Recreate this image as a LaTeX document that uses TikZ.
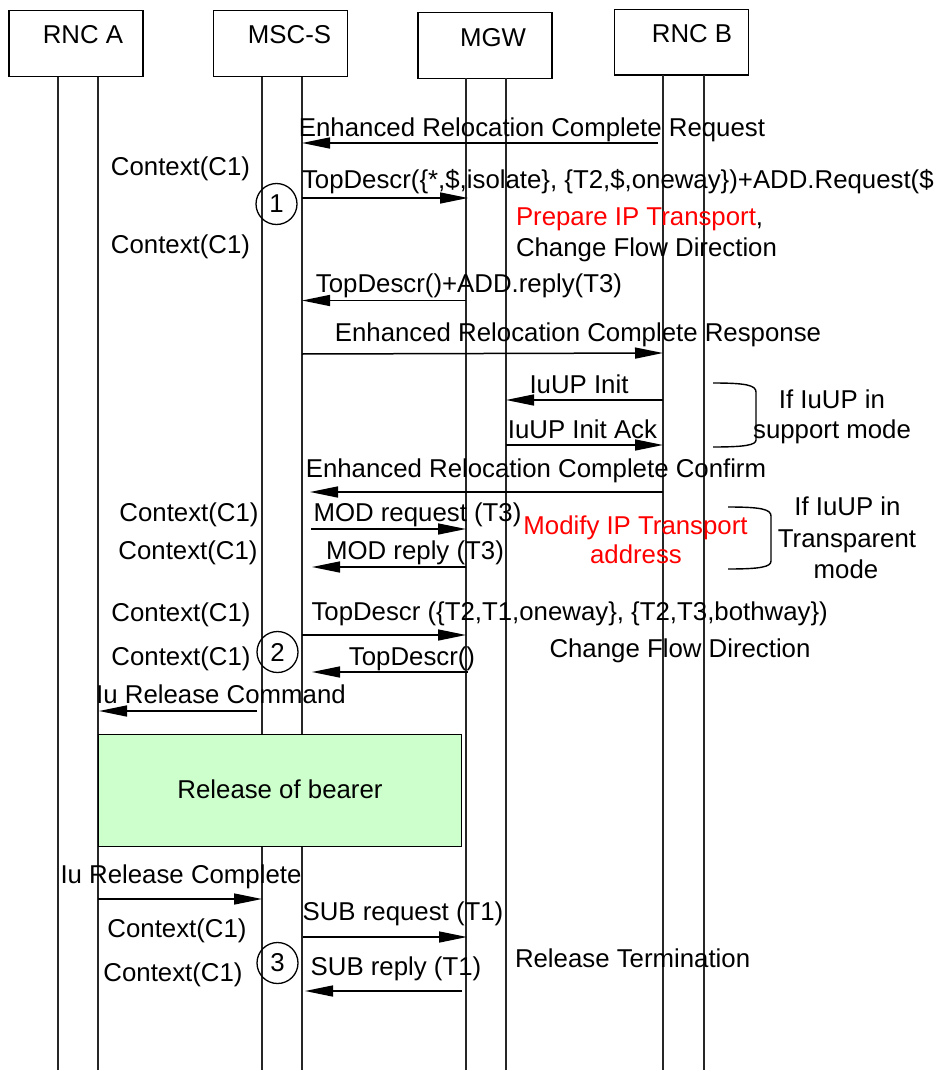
\documentclass[tikz,border=0pt]{standalone}
\usepackage{fontspec}
\setmainfont{Liberation Sans}
\usetikzlibrary{arrows.meta}
\begin{document}
\begin{tikzpicture}[x=1pt,y=-1pt,
  every node/.style={inner sep=0pt, outer sep=0pt, font=\fontsize{25.8}{30}\selectfont},
  lbl/.style={anchor=base},
  lblw/.style={anchor=base west},
  actor/.style={draw, line width=1.4pt, minimum width=134pt, minimum height=66pt},
  life/.style={line width=1.4pt, black!85},
  msg/.style={line width=1.5pt, -{Triangle[length=28pt,width=11pt]}},
  num/.style={draw, circle, line width=1.3pt, minimum size=41pt},
  brk/.style={line width=1.4pt},
  redtxt/.style={text=red},
  bearer/.style={draw, line width=1.4pt, fill={rgb,255:red,204;green,255;blue,204}, minimum width=363pt, minimum height=112pt}
]
\useasboundingbox (0,0) rectangle (945,1070);

% actors
\node[actor] (rncA) at (76,43.7) {};
\node[actor] (msc)  at (280.5,43.7) {};
\node[actor, minimum height=65.6pt] (mgw) at (485,45.5) {};
\node[actor, minimum height=65.7pt] (rncB) at (681.5,42.2) {};
\node[lbl] (rncAt) at (83,43.3) {RNC A};
\node[lbl] (msct)  at (289.5,43.3) {MSC-S};
\node[lbl] (mgwt)  at (493,46.7) {MGW};
\node[lbl] (rncBt) at (692,43) {RNC B};

% lifelines
\coordinate (A1t) at (58,76.7);  \coordinate (A1b) at (58,1070);
\coordinate (A2t) at (98,76.7);  \coordinate (A2b) at (98,1070);
\coordinate (S1t) at (262,76.7); \coordinate (S1b) at (262,1070);
\coordinate (S2t) at (302,76.7); \coordinate (S2b) at (302,1070);
\coordinate (G1t) at (466,78.3); \coordinate (G1b) at (466,1070);
\coordinate (G2t) at (506,78.3); \coordinate (G2b) at (506,1070);
\coordinate (B1t) at (663,75);   \coordinate (B1b) at (663,1070);
\coordinate (B2t) at (704,75);   \coordinate (B2b) at (704,1070);
\foreach \l in {A1,A2,S1,S2,G1,G2,B1,B2} \draw[life] (\l t) -- (\l b);

% message 1
\coordinate (m1a) at (658,143); \coordinate (m1b) at (302,143);
\draw[msg] (m1a) -- (m1b);
\node[lbl] (m1t) at (532,136) {Enhanced Relocation Complete Request};
\node[lbl] (c1) at (180.5,175) {Context(C1)};
% message 2
\coordinate (m2a) at (302,198); \coordinate (m2b) at (468,198);
\draw[msg] (m2a) -- (m2b);
\node[lblw] (m2t) at (302,188.3) {TopDescr(\{*,\$,isolate\}, \{T2,\$,oneway\})+ADD.Request(\$};
\node[num] (n1) at (276.5,204) {1};
\node[lblw] (r1) at (516,225) {{\color{red}Prepare IP Transport},};
\node[lblw] (r2) at (516,256.7) {Change Flow Direction};
\node[lbl] (c2) at (180.5,253) {Context(C1)};
% message 3
\coordinate (m3a) at (466,300.5); \coordinate (m3b) at (302,300.5);
\draw[msg] (m3a) -- (m3b);
\node[lbl] (m3t) at (469,292) {TopDescr()+ADD.reply(T3)};
% message 4
\coordinate (m4a) at (302,354); \coordinate (m4b) at (663,353);
\draw[msg] (m4a) -- (m4b);
\node[lbl] (m4t) at (578,341) {Enhanced Relocation Complete Response};
% message 5
\coordinate (m5a) at (663,400); \coordinate (m5b) at (506,400);
\draw[msg] (m5a) -- (m5b);
\node[lbl] (m5t) at (579,393) {IuUP Init};
% message 6
\coordinate (m6a) at (506,445); \coordinate (m6b) at (663,445);
\draw[msg] (m6a) -- (m6b);
\node[lbl] (m6t) at (582.5,438) {IuUP Init Ack};
% bracket 1
\draw[brk] (713,383) .. controls (745,383) and (756,385) .. (756,392) -- (756,440) .. controls (756,445) and (745,447) .. (713,447);
\node[lbl] (b1a) at (832,408) {If IuUP in};
\node[lbl] (b1b) at (832,438) {support mode};
% message 7
\coordinate (m7a) at (663,492); \coordinate (m7b) at (310,492);
\draw[msg] (m7a) -- (m7b);
\node[lbl] (m7t) at (536,477) {Enhanced Relocation Complete Confirm};
% message 8
\coordinate (m8a) at (311,529); \coordinate (m8b) at (466,529);
\draw[msg] (m8a) -- (m8b);
\node[lbl] (m8t) at (417.5,521) {MOD request (T3)};
\node[lbl] (c3) at (189,521.5) {Context(C1)};
% message 9
\coordinate (m9a) at (466,567); \coordinate (m9b) at (312,567);
\draw[msg] (m9a) -- (m9b);
\node[lbl] (m9t) at (415,559) {MOD reply (T3)};
\node[lbl] (c4) at (188,559) {Context(C1)};
\node[lbl, redtxt] (r3) at (635.5,534) {Modify IP Transport};
\node[lbl, redtxt] (r4) at (636,563.3) {address};
% bracket 2
\draw[brk] (728,507) .. controls (760,507) and (771,509) .. (771,516) -- (771,561) .. controls (771,567) and (760,569) .. (728,569);
\node[lbl] (b2a) at (847.5,515) {If IuUP in};
\node[lbl] (b2b) at (847,547) {Transparent};
\node[lbl] (b2c) at (846,578) {mode};
% message 10
\coordinate (m10a) at (302,635); \coordinate (m10b) at (466,635);
\draw[msg] (m10a) -- (m10b);
\node[lblw] (m10t) at (311.5,620) {TopDescr (\{T2,T1,oneway\}, \{T2,T3,bothway\})};
\node[lbl] (c5) at (181,621) {Context(C1)};
\node[lbl] (f2) at (680,657) {Change Flow Direction};
\node[num] (n2) at (277.5,652) {2};
% message 11
\coordinate (m11a) at (468,672); \coordinate (m11b) at (312,672);
\draw[msg] (m11a) -- (m11b);
\node[lbl] (m11t) at (412,665) {TopDescr()};
\node[lbl] (c6) at (181,665.7) {Context(C1)};
% message 12
\coordinate (m12a) at (257,711); \coordinate (m12b) at (99,711);
\draw[msg] (m12a) -- (m12b);
\node[lbl] (m12t) at (221,703) {Iu Release Command};
% bearer box
\node[bearer] (rb) at (280,790.5) {};
\node[lbl] (rbt) at (280,798) {Release of bearer};
% message 13
\coordinate (m13a) at (98,899); \coordinate (m13b) at (262,899);
\draw[msg] (m13a) -- (m13b);
\node[lbl] (m13t) at (181,883) {Iu Release Complete};
% message 14
\coordinate (m14a) at (303,937); \coordinate (m14b) at (467,937);
\draw[msg] (m14a) -- (m14b);
\node[lbl] (m14t) at (403,920.7) {SUB request (T1)};
\node[lbl] (c7) at (177,937.5) {Context(C1)};
\node[num] (n3) at (277.5,963) {3};
% message 15
\coordinate (m15a) at (462,991); \coordinate (m15b) at (305,991);
\draw[msg] (m15a) -- (m15b);
\node[lbl] (m15t) at (396,975) {SUB reply (T1)};
\node[lbl] (c8) at (173,981.7) {Context(C1)};
\node[lblw] (rt) at (515,967) {Release Termination};
\end{tikzpicture}
\end{document}
